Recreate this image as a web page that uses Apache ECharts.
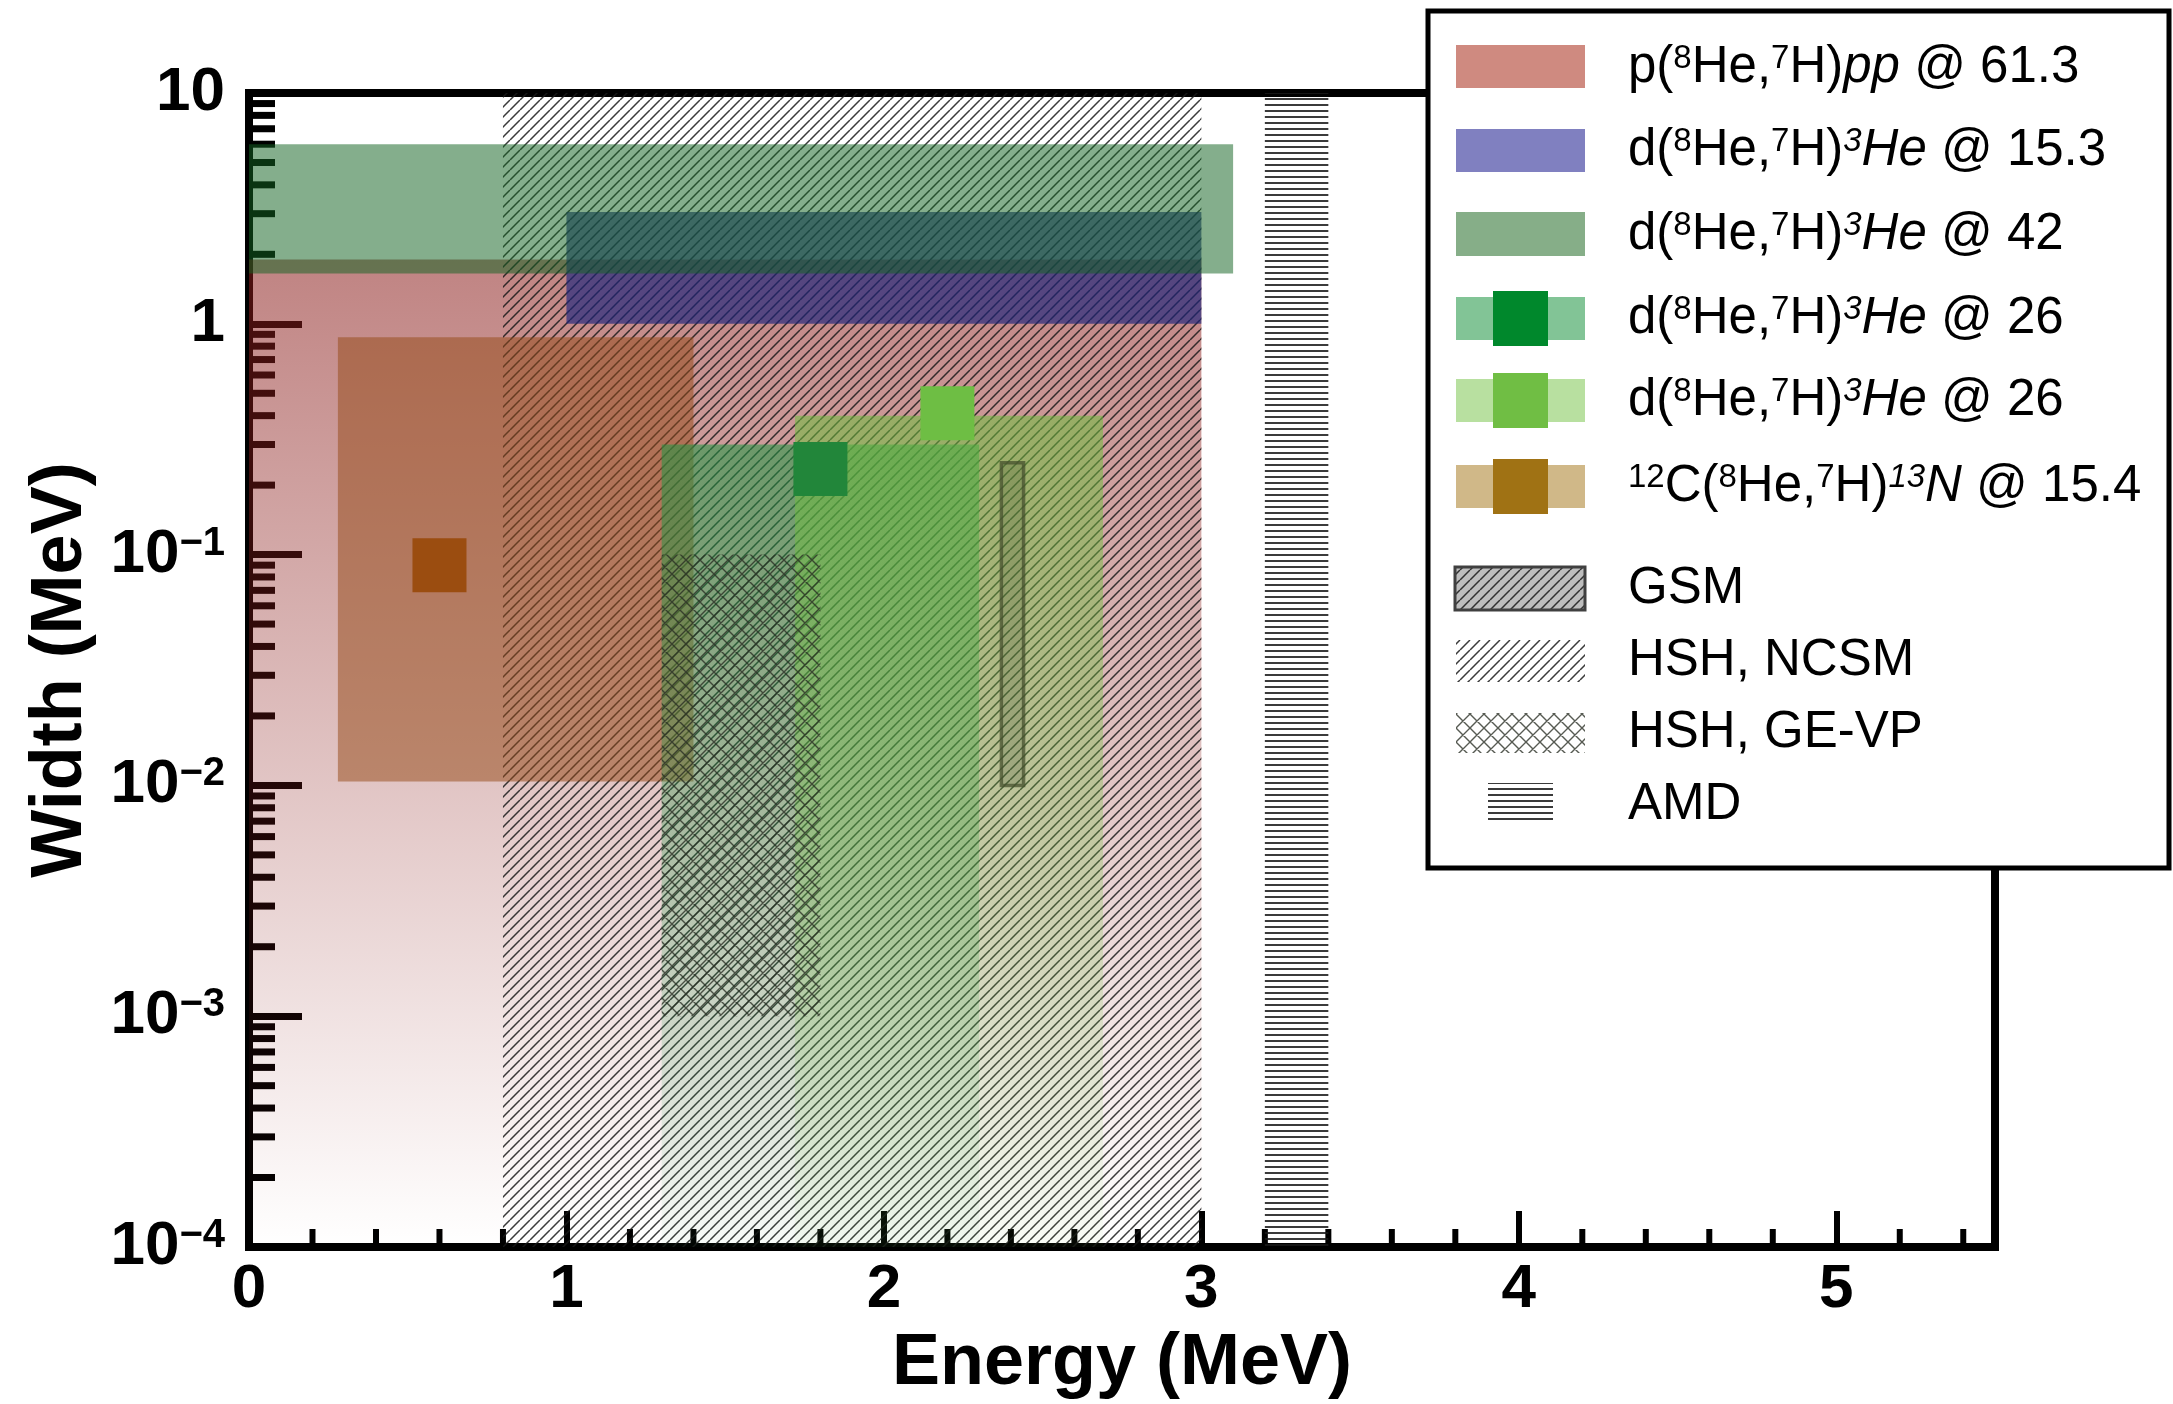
<!DOCTYPE html>
<html><head><meta charset="utf-8">
<script src="https://cdn.jsdelivr.net/npm/echarts@6/dist/echarts.min.js"></script>
<style>html,body{margin:0;padding:0;background:#fff}#c{width:2173px;height:1404px}</style>
</head><body><div id="c"></div>
<script>
// ---------------- data (Energy MeV, Width MeV) ----------------
// rectangles: [E_min, E_max, W_min, W_max]
const redRect      = [0.0, 3.0, 1e-4, 1.9];     // p(8He,7H)pp @ 61.3
const blueRect     = [1.0, 3.0, 1.0, 3.05];     // d(8He,7H)3He @ 15.3
const green42Rect  = [0.0, 3.1, 1.65, 6.0];     // d(8He,7H)3He @ 42
const brownRect    = [0.28, 1.4, 0.0104, 0.875];// 12C(8He,7H)13N @ 15.4
const green26Rect  = [1.3, 2.3, 1e-4, 0.3];     // d(8He,7H)3He @ 26 (a)
const lgreen26Rect = [1.72, 2.69, 1e-4, 0.4];   // d(8He,7H)3He @ 26 (b)
const gsmRect      = [2.37, 2.44, 0.01, 0.25];  // GSM
const ncsmRect     = [0.8, 3.0, 1e-4, 10];      // HSH, NCSM
const gevpRect     = [1.3, 1.8, 1e-3, 0.1];     // HSH, GE-VP
const amdRect      = [3.2, 3.4, 1e-4, 10];      // AMD
// central points [E, W]
const brownPoint   = [0.6, 0.09];
const green26Point = [1.8, 0.235];
const lgreen26Point= [2.2, 0.41];
// axis ticks
const xMinorTicks = [0.2,0.4,0.6,0.8,1.2,1.4,1.6,1.8,2.2,2.4,2.6,2.8,3.2,3.4,3.6,3.8,4.2,4.4,4.6,4.8,5.2,5.4];
const yMinorTicks = [2e-4,3e-4,4e-4,5e-4,6e-4,7e-4,8e-4,9e-4,
                     2e-3,3e-3,4e-3,5e-3,6e-3,7e-3,8e-3,9e-3,
                     2e-2,3e-2,4e-2,5e-2,6e-2,7e-2,8e-2,9e-2,
                     0.2,0.3,0.4,0.5,0.6,0.7,0.8,0.9,
                     2,3,4,5,6,7,8,9];
const legendLabels = [
  'p({s|8}He,{s|7}H){i|pp} @ 61.3',
  'd({s|8}He,{s|7}H){si|3}{i|He} @ 15.3',
  'd({s|8}He,{s|7}H){si|3}{i|He} @ 42',
  'd({s|8}He,{s|7}H){si|3}{i|He} @ 26',
  'd({s|8}He,{s|7}H){si|3}{i|He} @ 26',
  '{s|12}C({s|8}He,{s|7}H){si|13}{i|N} @ 15.4',
  'GSM', 'HSH, NCSM', 'HSH, GE-VP', 'AMD'
];

// ---------------- styling helpers ----------------
const FONT = '"Liberation Sans", Arial, Helvetica, sans-serif';
function makePattern(kind, bg) {
  const c = document.createElement('canvas');
  let w = 10, h = 10;
  if (kind === 'cross') { w = 14; h = 14; }
  if (kind === 'horiz') { w = 10; h = 6; }
  c.width = w; c.height = h;
  const g = c.getContext('2d');
  if (bg) { g.fillStyle = bg; g.fillRect(0, 0, w, h); }
  g.strokeStyle = kind === 'cross' ? 'rgba(40,45,35,0.78)' : 'rgba(25,25,25,0.85)';
  g.lineWidth = kind === 'horiz' ? 2 : (kind === 'cross' ? 1.4 : 1.5);
  g.beginPath();
  if (kind === 'diag') { for (const o of [-w, 0, w]) { g.moveTo(o, h); g.lineTo(o + w, 0); } }
  if (kind === 'cross') { for (const o of [-w, 0, w]) { g.moveTo(o, h); g.lineTo(o + w, 0); g.moveTo(o, 0); g.lineTo(o + w, h); } }
  if (kind === 'horiz') { g.moveTo(0, 3); g.lineTo(w, 3); }
  g.stroke();
  return { image: c, repeat: 'repeat' };
}
const diagPat = makePattern('diag');
const crossPat = makePattern('cross');
const horizPat = makePattern('horiz');
const diagPatGray = makePattern('diag', '#bdbdbd');

function vgrad(rgb, a0, a1) {
  return new echarts.graphic.LinearGradient(0, 0, 0, 1, [
    { offset: 0, color: 'rgba(' + rgb + ',' + a0 + ')' },
    { offset: 1, color: 'rgba(' + rgb + ',' + a1 + ')' }
  ]);
}

function rectSeries(name, rect, style) {
  return {
    type: 'custom', name: name, xAxisIndex: 0, yAxisIndex: 0, silent: true, clip: true,
    encode: { x: [0, 1], y: [2, 3] },
    data: [rect],
    renderItem: function (params, api) {
      const a = api.coord([api.value(0), api.value(3)]);
      const b = api.coord([api.value(1), api.value(2)]);
      return { type: 'rect', shape: { x: a[0], y: a[1], width: b[0] - a[0], height: b[1] - a[1] }, style: style };
    }
  };
}
function pointSeries(name, pt, color) {
  return {
    type: 'scatter', name: name, xAxisIndex: 0, yAxisIndex: 0, silent: true,
    symbol: 'rect', symbolSize: 54, data: [pt],
    itemStyle: { color: color, opacity: 1 }
  };
}

const xMinorData = xMinorTicks.map(v => [v, 1e-4]);
const yMinorData = yMinorTicks.map(v => [0, v]);

const series = [
  {
    type: 'custom', name: 'xminor', silent: true, encode: { x: 0, y: 1 }, data: xMinorData,
    renderItem: function (p, api) {
      const pt = api.coord([api.value(0), api.value(1)]);
      return { type: 'line', shape: { x1: pt[0], y1: pt[1], x2: pt[0], y2: pt[1] - 18 }, style: { stroke: '#000', lineWidth: 6 } };
    }
  },
  {
    type: 'custom', name: 'yminor', silent: true, encode: { x: 0, y: 1 }, data: yMinorData,
    renderItem: function (p, api) {
      const pt = api.coord([api.value(0), api.value(1)]);
      return { type: 'line', shape: { x1: pt[0], y1: pt[1], x2: pt[0] + 26, y2: pt[1] }, style: { stroke: '#000', lineWidth: 7 } };
    }
  },
  rectSeries('red', redRect, { fill: vgrad('140,30,28', 0.55, 0.0) }),
  rectSeries('ncsm', ncsmRect, { fill: diagPat }),
  rectSeries('amd', amdRect, { fill: horizPat }),
  rectSeries('blue', blueRect, { fill: 'rgba(28,35,124,0.65)' }),
  rectSeries('green42', green42Rect, { fill: 'rgba(20,100,35,0.52)' }),
  rectSeries('brown', brownRect, { fill: 'rgba(150,75,25,0.52)' }),
  rectSeries('green26', green26Rect, { fill: vgrad('32,150,67', 0.56, 0.03) }),
  rectSeries('lgreen26', lgreen26Rect, { fill: vgrad('110,190,60', 0.55, 0.04) }),
  rectSeries('gevp', gevpRect, { fill: crossPat }),
  rectSeries('gsm', gsmRect, { fill: 'rgba(70,80,50,0.22)', stroke: 'rgba(70,80,45,0.75)', lineWidth: 3.5 }),
  pointSeries('brownPt', brownPoint, '#9b4d10'),
  pointSeries('green26Pt', green26Point, '#22863a'),
  pointSeries('lgreen26Pt', lgreen26Point, '#6ebe44')
];

// ---------------- legend (drawn as graphics) ----------------
const LX = 1456, LW = 129, SQX = 1493, SQ = 55, TX = 1628;
const textCenters = [68, 151, 235, 319, 401, 487, 589, 661, 733, 805];
const legendRich = {
  s: { fontSize: 33, lineHeight: 35, verticalAlign: 'top', fontFamily: FONT },
  si: { fontSize: 33, lineHeight: 35, verticalAlign: 'top', fontStyle: 'italic', fontFamily: FONT },
  i: { fontSize: 51, lineHeight: 51, fontStyle: 'italic', fontFamily: FONT }
};
const graphics = [
  { type: 'rect', z: 100, shape: { x: 1428, y: 11, width: 741, height: 857 }, style: { fill: '#fff', stroke: '#000', lineWidth: 5 } },
  { type: 'rect', z: 101, shape: { x: LX, y: 45, width: LW, height: 43 }, style: { fill: '#cf8a80' } },
  { type: 'rect', z: 101, shape: { x: LX, y: 129, width: LW, height: 43 }, style: { fill: '#8080c0' } },
  { type: 'rect', z: 101, shape: { x: LX, y: 212, width: LW, height: 44 }, style: { fill: '#86ae88' } },
  { type: 'rect', z: 101, shape: { x: LX, y: 297, width: LW, height: 43 }, style: { fill: '#82c496' } },
  { type: 'rect', z: 102, shape: { x: SQX, y: 291, width: SQ, height: SQ }, style: { fill: '#00882c' } },
  { type: 'rect', z: 101, shape: { x: LX, y: 379, width: LW, height: 43 }, style: { fill: '#b8e0a0' } },
  { type: 'rect', z: 102, shape: { x: SQX, y: 373, width: SQ, height: SQ }, style: { fill: '#70be44' } },
  { type: 'rect', z: 101, shape: { x: LX, y: 465, width: LW, height: 43 }, style: { fill: '#d0b888' } },
  { type: 'rect', z: 102, shape: { x: SQX, y: 459, width: SQ, height: SQ }, style: { fill: '#a07214' } },
  { type: 'rect', z: 101, shape: { x: 1455, y: 567, width: 130, height: 43 }, style: { fill: diagPatGray, stroke: '#404040', lineWidth: 3 } },
  { type: 'rect', z: 101, shape: { x: LX, y: 640, width: LW, height: 42 }, style: { fill: diagPat } },
  { type: 'rect', z: 101, shape: { x: LX, y: 713, width: LW, height: 40 }, style: { fill: crossPat } },
  { type: 'rect', z: 101, shape: { x: 1488, y: 783, width: 65, height: 41 }, style: { fill: horizPat } }
];
legendLabels.forEach((t, k) => {
  graphics.push({
    type: 'text', z: 103, x: TX, y: textCenters[k],
    style: { text: t, fontSize: 51, lineHeight: 51, fontFamily: FONT, fill: '#000', align: 'left', verticalAlign: 'middle', rich: legendRich }
  });
});

// ---------------- option ----------------
const frameLine = { show: true, onZero: false, lineStyle: { color: '#000', width: 8, cap: 'square' } };
const option = {
  backgroundColor: '#fff',
  animation: false,
  textStyle: { fontFamily: FONT },
  grid: { left: 249, top: 93, width: 1746, height: 1154, containLabel: false, outerBoundsMode: 'none' },
  xAxis: [
    {
      type: 'value', min: 0, max: 5.5, interval: 1, position: 'bottom',
      axisLine: frameLine,
      axisTick: { show: true, inside: true, length: 36, lineStyle: { color: '#000', width: 6 } },
      minorTick: { show: false }, splitLine: { show: false },
      axisLabel: {
        fontSize: 62, fontWeight: 'bold', color: '#000', margin: 12, fontFamily: FONT,
        formatter: v => (Math.abs(v - Math.round(v)) < 1e-9 ? String(Math.round(v)) : '')
      },
      name: 'Energy (MeV)', nameLocation: 'middle', nameGap: 81,
      nameTextStyle: { fontSize: 72, fontWeight: 'bold', color: '#000', fontFamily: FONT }
    },
    {
      type: 'value', min: 0, max: 1, position: 'top', axisLine: frameLine,
      axisTick: { show: false }, axisLabel: { show: false }, splitLine: { show: false }
    }
  ],
  yAxis: [
    {
      type: 'log', logBase: 10, min: 1e-4, max: 10, position: 'left',
      axisLine: frameLine,
      axisTick: { show: true, inside: true, length: 53, lineStyle: { color: '#000', width: 7 } },
      minorTick: { show: false }, splitLine: { show: false },
      axisLabel: {
        fontSize: 62, lineHeight: 62, fontWeight: 'bold', color: '#000', margin: 24, fontFamily: FONT,
        formatter: function (v) {
          const e = Math.round(Math.log10(v));
          if (e === 1) return '10';
          if (e === 0) return '1';
          return '10{s|\u2212' + (-e) + '}';
        },
        rich: { s: { fontSize: 40, lineHeight: 28, verticalAlign: 'top', fontWeight: 'bold', color: '#000', fontFamily: FONT } }
      },
      name: 'Width (MeV)', nameLocation: 'middle', nameGap: 152, nameRotate: 90,
      nameTextStyle: { fontSize: 72, fontWeight: 'bold', color: '#000', fontFamily: FONT }
    },
    {
      type: 'value', min: 0, max: 1, position: 'right', axisLine: frameLine,
      axisTick: { show: false }, axisLabel: { show: false }, splitLine: { show: false }
    }
  ],
  graphic: graphics,
  series: series
};
const chart = echarts.init(document.getElementById('c'), null, { renderer: 'canvas' });
chart.setOption(option);
</script></body></html>
